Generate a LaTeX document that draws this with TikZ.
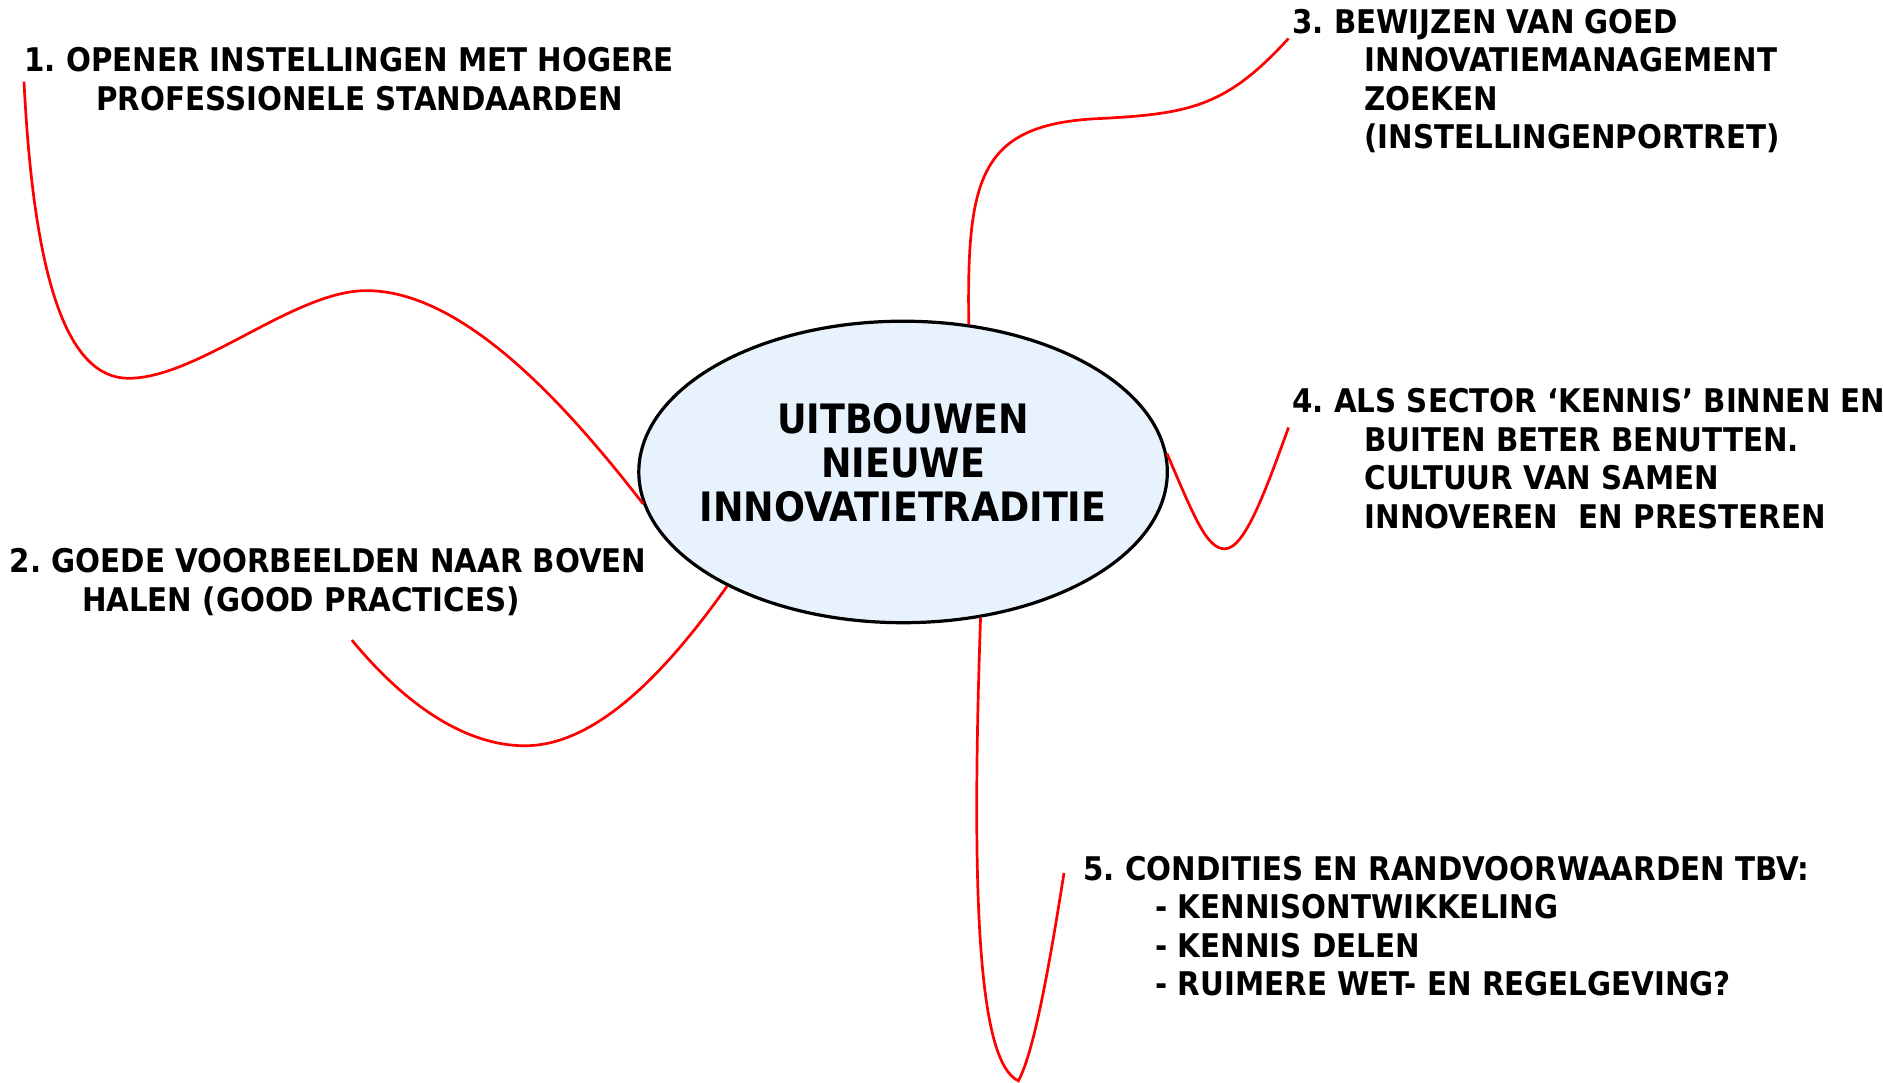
\documentclass[tikz,border=0pt]{standalone}
\usepackage{fontspec}
\usepackage{xcolor}
\usetikzlibrary{shapes.geometric}
\setmainfont{DejaVu Sans Condensed}
\frenchspacing
\definecolor{corefill}{RGB}{232,242,253}
\definecolor{branchred}{RGB}{255,0,0}
\newcommand\sublead{\hspace*{1.5cm}}
\tikzstyle{core}=[ellipse, draw, line width=1.9pt, fill=corefill, minimum width=11cm, minimum height=6.275cm, inner xsep=-0.36cm, inner ysep=0pt, text depth=0.4cm, align=center, font=\fontsize{24}{26}\selectfont\bfseries]
\tikzstyle{topic}=[anchor=base west, align=left, inner sep=0pt, font=\fontsize{19.3}{22.8}\selectfont\bfseries]
\tikzset{branch/.style={draw=branchred, line width=1.6pt}}

\begin{document}
\begin{tikzpicture}[x=0.025cm, y=-0.025cm]
  \useasboundingbox (0,0) rectangle (1568,901);
  \draw (752,393) node[core] (core) {UITBOUWEN\\NIEUWE\\INNOVATIETRADITIE};

  %% topics, placed at the baseline of their last line
  \draw (20,92) node[topic] (t1) {1. OPENER INSTELLINGEN MET HOGERE\\\sublead PROFESSIONELE STANDAARDEN};
  \draw (8,509) node[topic] (t2) {2. GOEDE VOORBEELDEN NAAR BOVEN\\\sublead HALEN (GOOD PRACTICES)};
  \draw (1076,124) node[topic] (t3) {3. BEWIJZEN VAN GOED\\\sublead INNOVATIEMANAGEMENT\\\sublead ZOEKEN\\\sublead (INSTELLINGENPORTRET)};
  \draw (1076,440) node[topic] (t4) {4. ALS SECTOR ‘KENNIS’ BINNEN EN\\\sublead BUITEN BETER BENUTTEN.\\\sublead CULTUUR VAN SAMEN\\\sublead INNOVEREN\ \ EN PRESTEREN};
  \draw (902,829) node[topic] (t5) {5. CONDITIES EN RANDVOORWAARDEN TBV:\\\sublead - KENNISONTWIKKELING\\\sublead - KENNIS DELEN\\\sublead - RUIMERE WET- EN REGELGEVING?};

  %% loose ends next to the topics
  \coordinate (e1) at (20,68);
  \coordinate (e2) at (293,533);
  \coordinate (e3) at (1073,32);
  \coordinate (e4) at (1073,356);
  \coordinate (e5) at (886,727);

  %% branches
  \draw[branch] (e1) .. controls (28,230) and (55,315) .. (107,315) .. controls (165,315) and (245,242) .. (305,242) .. controls (385,242) and (470,335) .. (core.187);
  \draw[branch] (e2) .. controls (340,590) and (390,621) .. (437,621) .. controls (500,621) and (560,552) .. (core.213);
  \draw[branch] (core.66) .. controls (805,150) and (815,105) .. (910,99) .. controls (990,95) and (1020,90) .. (e3);
  \draw[branch] (core.4) .. controls (995,432) and (1005,457) .. (1020,457) .. controls (1037,457) and (1055,405) .. (e4);
  \draw[branch] (core.298) .. controls (808,760) and (816,885) .. (848,900) .. controls (862,875) and (876,790) .. (e5);
\end{tikzpicture}
\end{document}
